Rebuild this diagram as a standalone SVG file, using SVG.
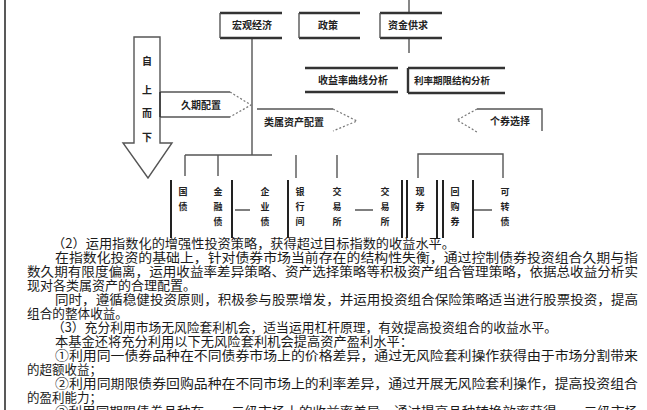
<svg xmlns="http://www.w3.org/2000/svg" width="647" height="410" viewBox="0 0 647 410">
<style>
.ln{stroke:#555;stroke-width:1.4;fill:none}
.tk{stroke:#333;stroke-width:2.4;fill:none}
.dt{stroke:#777;stroke-width:1.2;stroke-dasharray:2 2;fill:none}
.bar{stroke:#222;stroke-width:2;fill:none}
.lb{font-family:"Noto Sans CJK SC","Noto Sans",sans-serif;font-size:10px;font-weight:bold;fill:#222}
.vt{font-family:"Noto Sans CJK SC","Noto Sans",sans-serif;font-size:9px;font-weight:bold;fill:#222;text-anchor:middle}
.tx{font-family:"Noto Sans CJK SC","Noto Sans",sans-serif;font-size:12.6px;fill:#1a1a1a}
</style>
<rect width="647" height="410" fill="#fff"/>
<line x1="5" y1="0" x2="5" y2="410" stroke="#222" stroke-width="1.5"/>

<g id="connectors">
  <path class="ln" d="M409 0V13M409 38V53"/>
  <path class="ln" d="M252 38V155M185 155H272M185 155V176M218 155V176M296 155V178M337 155V178"/>
  <path class="ln" d="M418 178V154H503V178"/>
  <path class="ln" d="M235 210H250M355 210H373M473 210H492"/>
</g>

<g id="n-macro">
  <path class="tk" d="M220 13H282M220 38H282"/><path class="ln" d="M220 13V38"/>
  <text class="lb" x="232" y="29">宏观经济</text>
</g>
<g id="n-policy">
  <path class="tk" d="M299 13H360M299 38H360"/><path class="ln" d="M299 13V38"/>
  <text class="lb" x="318" y="29">政策</text>
</g>
<g id="n-fund">
  <path class="tk" d="M380 13H442M380 38H442"/><path class="ln" d="M380 13V38"/>
  <text class="lb" x="388" y="29">资金供求</text>
</g>
<g id="n-curve">
  <path class="tk" d="M305 68H398M305 92H398"/>
  <text class="lb" x="318" y="84">收益率曲线分析</text>
</g>
<g id="n-term">
  <path class="tk" d="M408 68H505M408 93H505M408 68V93"/>
  <text class="lb" x="414" y="84" style="font-size:9.5px">利率期限结构分析</text>
</g>

<g id="n-topdown">
  <path class="ln" d="M160 92V37H134V143H123L148 178L172 143H160V117"/>
  <g class="vt" style="font-size:10px">
    <text x="147" y="65">自</text>
    <text x="147" y="94">上</text>
    <text x="147" y="117">而</text>
    <text x="147" y="141">下</text>
  </g>
</g>
<g id="n-duration">
  <path class="ln" d="M160 92H230M160 117H230"/><path class="tk" d="M160 92V117" style="stroke-width:1.8"/>
  <path class="dt" d="M230 92L251 105L230 117"/>
  <text class="lb" x="181" y="109">久期配置</text>
</g>
<g id="n-sector">
  <path class="ln" d="M257 109H333"/>
  <path class="dt" d="M333 109L357 121L333 131"/>
  <text class="lb" x="264" y="126">类属资产配置</text>
</g>
<g id="n-select">
  <path class="ln" d="M477 109H542V131"/>
  <path class="dt" d="M477 109L457 120L477 132"/>
  <text class="lb" x="490" y="125">个券选择</text>
</g>

<g id="n-bottom">
  <path class="bar" d="M171 180V238M232 180V238M288 180V238M402 180V238M407 180V238M437 180V238M443 180V238M473 180V238"/>
  <g class="vt">
    <text x="183" y="195">国</text><text x="183" y="210">债</text>
    <text x="218" y="195">金</text><text x="218" y="210">融</text><text x="218" y="225">债</text>
    <text x="265" y="195">企</text><text x="265" y="210">业</text><text x="265" y="225">债</text>
    <text x="300" y="195">银</text><text x="300" y="210">行</text><text x="300" y="225">间</text>
    <text x="337" y="195">交</text><text x="337" y="210">易</text><text x="337" y="225">所</text>
    <text x="385" y="195">交</text><text x="385" y="210">易</text><text x="385" y="225">所</text>
    <text x="420" y="195">现</text><text x="420" y="210">券</text>
    <text x="455" y="195">回</text><text x="455" y="210">购</text><text x="455" y="225">券</text>
    <text x="505" y="195">可</text><text x="505" y="210">转</text><text x="505" y="225">债</text>
  </g>
</g>

<g id="body">
  <text class="tx" x="52" y="248" textLength="403" lengthAdjust="spacingAndGlyphs">（2）运用指数化的增强性投资策略，获得超过目标指数的收益水平。</text>
  <text class="tx" x="55" y="262" textLength="583" lengthAdjust="spacingAndGlyphs">在指数化投资的基础上，针对债券市场当前存在的结构性失衡，通过控制债券投资组合久期与指</text>
  <text class="tx" x="27" y="276" textLength="611" lengthAdjust="spacingAndGlyphs">数久期有限度偏离，运用收益率差异策略、资产选择策略等积极资产组合管理策略，依据总收益分析实</text>
  <text class="tx" x="27" y="290" textLength="169" lengthAdjust="spacingAndGlyphs">现对各类属资产的合理配置。</text>
  <text class="tx" x="55" y="304" textLength="583" lengthAdjust="spacingAndGlyphs">同时，遵循稳健投资原则，积极参与股票增发，并运用投资组合保险策略适当进行股票投资，提高</text>
  <text class="tx" x="27" y="318" textLength="101" lengthAdjust="spacingAndGlyphs">组合的整体收益。</text>
  <text class="tx" x="52" y="332" textLength="505" lengthAdjust="spacingAndGlyphs">（3）充分利用市场无风险套利机会，适当运用杠杆原理，有效提高投资组合的收益水平。</text>
  <text class="tx" x="55" y="346" textLength="358" lengthAdjust="spacingAndGlyphs">本基金还将充分利用以下无风险套利机会提高资产盈利水平：</text>
  <text class="tx" x="55" y="360" textLength="583" lengthAdjust="spacingAndGlyphs">①利用同一债券品种在不同债券市场上的价格差异，通过无风险套利操作获得由于市场分割带来</text>
  <text class="tx" x="27" y="374" textLength="75" lengthAdjust="spacingAndGlyphs">的超额收益；</text>
  <text class="tx" x="55" y="388" textLength="583" lengthAdjust="spacingAndGlyphs">②利用同期限债券回购品种在不同市场上的利率差异，通过开展无风险套利操作，提高投资组合</text>
  <text class="tx" x="27" y="402" textLength="75" lengthAdjust="spacingAndGlyphs">的盈利能力；</text>
  <text class="tx" x="55" y="416" textLength="583" lengthAdjust="spacingAndGlyphs">③利用同期限债券品种在一、二级市场上的收益率差异，通过提高品种转换效率获得一、二级市场</text>
</g>
</svg>
